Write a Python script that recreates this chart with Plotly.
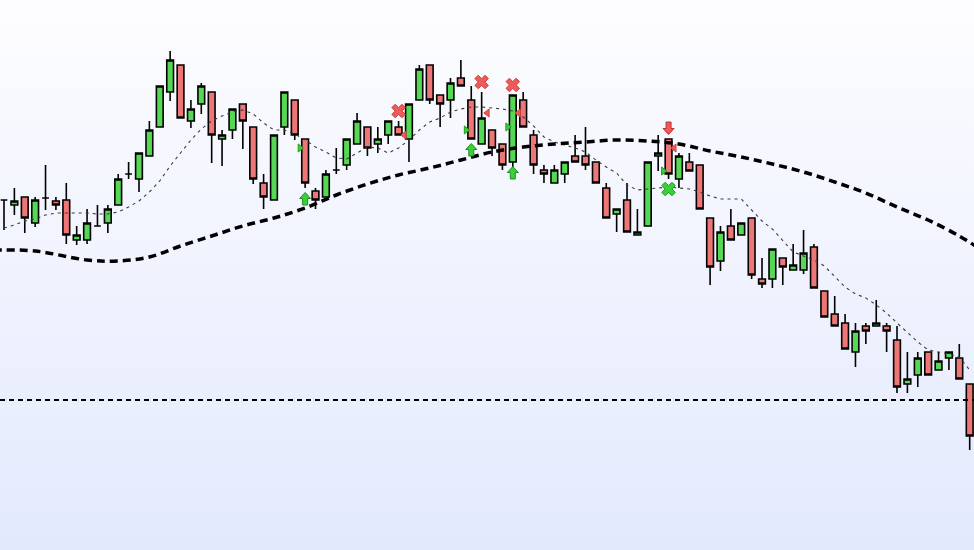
import base64
import plotly.graph_objects as go

# ---------------- data ----------------
bars = list(range(94))
open_ = [350, 345, 353, 327, 352, 349, 350, 310, 310, 324,
         327, 345, 376, 371, 394, 423, 458, 485, 429, 446,
         458, 411, 420, 446, 423, 367, 350, 423, 450, 411,
         359, 353, 380, 385, 406, 423, 406, 415, 423, 411,
         450, 485, 455, 450, 472, 450, 406, 420, 406, 388,
         450, 415, 380, 367, 376, 394, 394, 388, 362, 336,
         350, 315, 324, 394, 411, 371, 388, 385, 332, 289,
         324, 315, 332, 271, 271, 292, 280, 280, 303, 259,
         236, 227, 198, 224, 224, 224, 210, 166, 175, 198,
         180, 192, 192, 166]
high = [350, 362, 353, 353, 385, 353, 367, 324, 341, 345,
        345, 376, 388, 397, 429, 464, 499, 485, 450, 467,
        458, 420, 441, 446, 423, 376, 415, 458, 450, 411,
        362, 380, 402, 411, 437, 423, 423, 429, 429, 446,
        485, 485, 455, 472, 490, 464, 458, 420, 406, 455,
        458, 420, 385, 385, 388, 415, 423, 388, 367, 341,
        367, 341, 388, 415, 411, 397, 397, 385, 332, 324,
        341, 327, 332, 292, 301, 292, 306, 320, 306, 259,
        254, 236, 227, 227, 250, 227, 224, 198, 198, 198,
        198, 198, 206, 166]
low = [320, 335, 317, 323, 340, 340, 306, 305, 306, 324,
       317, 345, 371, 358, 394, 423, 449, 432, 422, 436,
       387, 384, 411, 401, 366, 341, 350, 415, 410, 362,
       341, 353, 376, 380, 406, 394, 397, 406, 415, 388,
       450, 446, 423, 432, 464, 411, 406, 394, 380, 380,
       423, 376, 367, 367, 367, 388, 380, 367, 332, 318,
       318, 315, 324, 379, 371, 362, 379, 341, 265, 279,
       310, 315, 271, 262, 262, 265, 280, 276, 262, 233,
       224, 201, 183, 206, 224, 198, 157, 157, 163, 175,
       180, 180, 171, 100]
close = [350, 349, 332, 350, 352, 345, 315, 315, 327, 324,
         341, 371, 376, 397, 420, 464, 490, 432, 441, 464,
         415, 415, 441, 429, 371, 353, 415, 458, 415, 367,
         350, 376, 380, 411, 429, 402, 411, 429, 415, 446,
         481, 450, 446, 467, 464, 411, 432, 402, 385, 455,
         423, 385, 376, 380, 388, 388, 385, 367, 332, 341,
         318, 318, 388, 397, 376, 394, 379, 341, 283, 318,
         310, 327, 275, 266, 301, 283, 285, 297, 262, 233,
         224, 201, 219, 219, 227, 219, 163, 171, 192, 175,
         189, 198, 171, 114]

fast_line = [322, 325, 329, 331, 335, 337, 337, 337, 337, 336,
             336, 338, 343, 349, 358, 369, 384, 397, 410, 421,
             429, 434, 438, 440, 436, 427, 420, 420, 416, 410,
             403, 398, 392, 391, 397, 403, 402, 397, 402, 410,
             420, 428, 432, 438, 441, 443, 443, 442, 441, 439,
             433, 424, 413, 408, 405, 402, 398, 390, 383, 377,
             365, 360, 361, 362, 363, 362, 361, 358, 354, 351,
             351, 351, 340, 329, 321, 310, 298, 294, 290, 284,
             274, 263, 256, 252, 245, 237, 227, 217, 208, 200,
             198, 196, 193, 180]

slow_idx = [-1, 3, 8, 11, 14, 17, 20, 23, 26, 29, 32, 35, 38, 41, 44, 47,
            50, 53, 56, 59, 62, 65, 68, 71, 74, 77, 80, 83, 86, 89, 92, 94]
slow_val = [300, 299, 290, 289, 293, 304, 314, 324, 332, 342, 355, 366, 375,
            382, 390, 398, 403, 406, 408, 410, 409, 406, 399, 393, 386, 378,
            368, 357, 343, 330, 314, 301]

level = 150

up_arrow_idx = [29, 45, 49]
up_arrow_val = [351, 400, 377]
down_arrow_idx = [64]
down_arrow_val = [422]
red_x_idx = [38, 46, 49]
red_x_val = [439, 468, 465]
green_x_idx = [64]
green_x_val = [361]
buy_tri_idx = [29, 45, 49, 64]
buy_tri_val = [402, 420, 423, 379]
sell_tri_idx = [38, 46, 49, 64]
sell_tri_val = [415, 437, 437, 402]

# ---------------- figure ----------------
W, H = 974, 550
X0, X1 = -0.385, 93.415
Y0, Y1 = 0, 550
px_x = (X1 - X0) / W
px_y = (Y1 - Y0) / H

GREEN = "#55d955"
RED = "#ee7676"

fig = go.Figure()

fig.add_trace(go.Candlestick(
    x=bars, open=open_, high=high, low=low, close=close,
    increasing=dict(line=dict(color="#000000", width=1.6), fillcolor=GREEN),
    decreasing=dict(line=dict(color="#000000", width=1.6), fillcolor=RED),
    whiskerwidth=0, showlegend=False, hoverinfo="skip",
))

fig.add_trace(go.Scatter(
    x=[X0, X1], y=[level, level], mode="lines",
    line=dict(color="#000000", width=2.2, dash="5px,4px"),
    showlegend=False, hoverinfo="skip"))

fig.add_trace(go.Scatter(
    x=bars, y=fast_line, mode="lines",
    line=dict(color="#3a3a3a", width=1.1, dash="3px,4px"),
    showlegend=False, hoverinfo="skip"))

fig.add_trace(go.Scatter(
    x=slow_idx, y=slow_val, mode="lines",
    line=dict(color="#000000", width=3.5, dash="8px,5px", shape="spline", smoothing=1.0),
    showlegend=False, hoverinfo="skip"))


def arrow_poly(xs, ys, up):
    s = 1 if up else -1
    shape = [(0, 6.5), (5.5, 0.5), (2.5, 0.5), (2.5, -6), (-2.5, -6), (-2.5, 0.5), (-5.5, 0.5), (0, 6.5)]
    px, py = [], []
    for cx, cy in zip(xs, ys):
        for dx, dy in shape:
            px.append(cx + dx * px_x)
            py.append(cy + s * dy * px_y)
        px.append(None)
        py.append(None)
    return px, py


ax, ay = arrow_poly(up_arrow_idx, up_arrow_val, True)
fig.add_trace(go.Scatter(x=ax, y=ay, mode="lines", fill="toself",
                         fillcolor="#3ccf3c", line=dict(color="#1e8f1e", width=1),
                         showlegend=False, hoverinfo="skip"))
ax, ay = arrow_poly(down_arrow_idx, down_arrow_val, False)
fig.add_trace(go.Scatter(x=ax, y=ay, mode="lines", fill="toself",
                         fillcolor="#ee5a5a", line=dict(color="#c03030", width=1),
                         showlegend=False, hoverinfo="skip"))

fig.add_trace(go.Scatter(x=red_x_idx, y=red_x_val, mode="markers",
                         marker=dict(symbol="x", size=12, color="#ee5a5a",
                                     line=dict(color="#d04040", width=1)),
                         showlegend=False, hoverinfo="skip"))
fig.add_trace(go.Scatter(x=green_x_idx, y=green_x_val, mode="markers",
                         marker=dict(symbol="x", size=12, color="#3ccf3c",
                                     line=dict(color="#1e9f1e", width=1)),
                         showlegend=False, hoverinfo="skip"))
fig.add_trace(go.Scatter(x=[i - 0.5 for i in buy_tri_idx], y=buy_tri_val, mode="markers",
                         marker=dict(symbol="triangle-right", size=7, color="#3ccf3c",
                                     line=dict(color="#1e9f1e", width=1)),
                         showlegend=False, hoverinfo="skip"))
fig.add_trace(go.Scatter(x=[i + 0.55 for i in sell_tri_idx], y=sell_tri_val, mode="markers",
                         marker=dict(symbol="triangle-left", size=7, color="#ee5a5a",
                                     line=dict(color="#d04040", width=1)),
                         showlegend=False, hoverinfo="skip"))

svg = ("<svg xmlns='http://www.w3.org/2000/svg' width='974' height='550'>"
       "<defs><linearGradient id='g' x1='0' y1='0' x2='0' y2='1'>"
       "<stop offset='0' stop-color='#fdfdff'/><stop offset='1' stop-color='#e3e9fd'/>"
       "</linearGradient></defs><rect width='974' height='550' fill='url(#g)'/></svg>")
bg = "data:image/svg+xml;base64," + base64.b64encode(svg.encode()).decode()

fig.update_layout(
    width=W, height=H,
    margin=dict(l=0, r=0, t=0, b=0),
    paper_bgcolor="#ffffff",
    plot_bgcolor="rgba(0,0,0,0)",
    boxgap=0.35, boxgroupgap=0,
    images=[dict(source=bg, xref="paper", yref="paper", x=0, y=1, sizex=1, sizey=1,
                 sizing="stretch", layer="below", xanchor="left", yanchor="top")],
    xaxis=dict(range=[X0, X1], visible=False, showgrid=False, zeroline=False,
               rangeslider=dict(visible=False), fixedrange=True),
    yaxis=dict(range=[Y0, Y1], visible=False, showgrid=False, zeroline=False, fixedrange=True),
    showlegend=False,
)

fig.write_html(
    "out.html",
    config={"displayModeBar": False},
    post_script="document.body.style.margin='0';document.body.style.overflow='hidden';",
)
